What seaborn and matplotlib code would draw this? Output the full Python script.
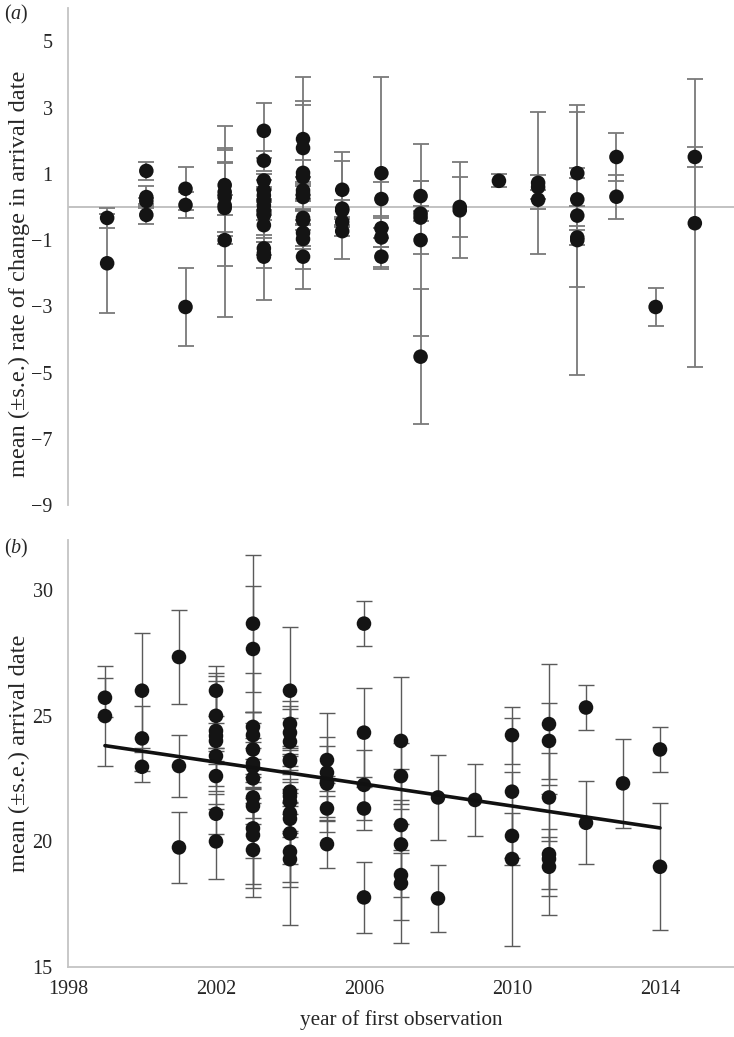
import numpy as np
import pandas as pd
import matplotlib
matplotlib.use("Agg")
import matplotlib.pyplot as plt
import seaborn as sns

# panel (a): rate of change in arrival date
a_year = [1999, 1999,
          2000, 2000, 2000, 2000,
          2001, 2001, 2001,
          2002, 2002, 2002, 2002, 2002, 2002,
          2003, 2003, 2003, 2003, 2003, 2003, 2003, 2003, 2003, 2003, 2003, 2003, 2003,
          2004, 2004, 2004, 2004, 2004, 2004, 2004, 2004, 2004, 2004, 2004, 2004,
          2005, 2005, 2005, 2005, 2005,
          2006, 2006, 2006, 2006, 2006,
          2007, 2007, 2007, 2007, 2007,
          2008, 2008,
          2009,
          2010, 2010, 2010,
          2011, 2011, 2011, 2011, 2011,
          2012, 2012,
          2013,
          2014, 2014]
a_mean = [-0.33, -1.7,
          1.09, 0.3, 0.18, -0.24,
          0.55, 0.06, -3.02,
          0.66, 0.45, 0.30, 0.05, -0.03, -1.0,
          2.3, 1.4, 0.8, 0.5, 0.35, 0.2, 0.05, -0.1, -0.25, -0.55, -1.25, -1.4, -1.5,
          2.05, 1.78, 1.03, 0.9, 0.5, 0.4, 0.3, -0.33, -0.4, -0.78, -0.97, -1.5,
          0.52, -0.05, -0.1, -0.45, -0.73,
          1.02, 0.24, -0.64, -0.92, -1.5,
          0.33, -0.2, -0.32, -1.0, -4.52,
          0.0, -0.1,
          0.79,
          0.73, 0.6, 0.22,
          1.02, 0.23, -0.26, -0.92, -1.0,
          1.51, 0.31,
          -3.02,
          1.51, -0.49]
a_se = [0.3, 1.5,
        0.27, 0.34, 0.1, 0.27,
        0.65, 0.4, 1.17,
        1.78, 1.33, 1.06, 0.3, 1.75, 2.32,
        0.83, 0.3, 0.2, 0.3, 0.2, 0.3, 0.2, 0.3, 0.8, 0.3, 0.2, 0.45, 1.3,
        1.88, 1.42, 0.4, 2.18, 0.25, 0.5, 0.4, 0.2, 0.3, 0.4, 0.9, 0.98,
        1.13, 0.25, 1.48, 0.1, 0.15,
        2.9, 0.5, 0.3, 0.3, 0.3,
        0.45, 0.22, 1.1, 2.9, 2.03,
        0.92, 1.45,
        0.2,
        2.15, 0.37, 0.28,
        0.15, 2.65, 0.3, 0.22, 4.08,
        0.73, 0.66,
        0.58,
        0.29, 4.35]

# panel (b): mean arrival date
b_year = [1999, 1999,
          2000, 2000, 2000,
          2001, 2001, 2001,
          2002, 2002, 2002, 2002, 2002, 2002, 2002, 2002, 2002,
          2003, 2003, 2003, 2003, 2003, 2003, 2003, 2003, 2003, 2003, 2003, 2003, 2003,
          2004, 2004, 2004, 2004, 2004, 2004, 2004, 2004, 2004, 2004, 2004, 2004, 2004, 2004,
          2005, 2005, 2005, 2005, 2005, 2005,
          2006, 2006, 2006, 2006, 2006,
          2007, 2007, 2007, 2007, 2007, 2007,
          2008, 2008,
          2009,
          2010, 2010, 2010, 2010,
          2011, 2011, 2011, 2011, 2011, 2011,
          2012, 2012,
          2013,
          2014, 2014]
b_mean = [25.72, 24.99,
          26.0, 24.1, 22.97,
          27.34, 23.0, 19.76,
          26.0, 25.0, 24.4, 24.2, 24.0, 23.4, 22.6, 21.1, 20.0,
          28.67, 27.66, 24.56, 24.23, 23.66, 23.1, 22.97, 22.51, 21.75, 21.41, 20.52, 20.25, 19.66,
          26.0, 24.68, 24.33, 23.97, 23.24, 23.2, 21.98, 21.8, 21.58, 21.12, 20.9, 20.32, 19.59, 19.29,
          23.24, 22.74, 22.38, 22.3, 21.31, 19.89,
          28.67, 24.33, 22.25, 21.31, 17.77,
          24.0, 22.6, 20.65, 19.88, 18.66, 18.33,
          21.75, 17.73,
          21.65,
          24.23, 21.98, 20.22, 19.3,
          24.67, 24.0, 21.75, 19.49, 19.3, 18.99,
          25.33, 20.74,
          22.31,
          23.66, 18.99]
b_se = [0.77, 2.0,
        2.3, 1.3, 0.6,
        1.86, 1.25, 1.4,
        1.0, 1.4, 2.2, 0.5, 2.7, 0.3, 0.6, 0.8, 1.5,
        2.73, 2.5, 0.6, 0.5, 1.5, 1.0, 0.3, 4.2, 0.8, 0.7, 1.2, 2.1, 1.86,
        2.52, 0.9, 0.6, 1.3, 0.4, 0.2, 0.4, 3.6, 0.5, 0.8, 0.5, 1.2, 2.9, 0.9,
        0.92, 2.38, 1.4, 0.3, 0.5, 0.96,
        0.89, 1.76, 1.4, 0.86, 1.4,
        2.53, 1.3, 1.0, 3.0, 0.86, 2.36,
        1.7, 1.32,
        1.45,
        1.13, 2.92, 0.9, 3.46,
        2.41, 1.51, 1.75, 2.4, 1.2, 1.17,
        0.88, 1.65,
        1.76,
        0.88, 2.52]

a_ticks = [-9, -7, -5, -3, -1, 1, 3, 5]
b_yticks = [15, 20, 25, 30]
b_xticks = [1998, 2002, 2006, 2010, 2014]

df_a = pd.DataFrame({"year": a_year, "mean": a_mean, "se": a_se})
df_b = pd.DataFrame({"year": b_year, "mean": b_mean, "se": b_se})

sns.set_style("white")
plt.rcParams["font.family"] = ["Liberation Serif", "DejaVu Serif"]
plt.rcParams["mathtext.fontset"] = "custom"
plt.rcParams["mathtext.it"] = "Liberation Serif:italic"
plt.rcParams["mathtext.rm"] = "Liberation Serif"

fig = plt.figure(figsize=(7.34, 10.37), dpi=100)
ax_a = fig.add_axes([0.0926, 0.513, 0.9074, 0.479])
ax_b = fig.add_axes([0.0926, 0.0675, 0.9074, 0.4118])

spine_col = "#c4c4c4"
fs = 14.5
yfs = 17.5

# ---- panel a
ax_a.axhline(0, color="#bdbdbd", lw=1.3, zorder=1)
ax_a.errorbar(df_a["year"], df_a["mean"], yerr=df_a["se"], fmt="none",
              ecolor="#7a7a7a", elinewidth=1.3, capsize=5.5, capthick=1.3, zorder=2)
sns.scatterplot(data=df_a, x="year", y="mean", ax=ax_a, color="#141414",
                s=110, edgecolor="none", zorder=3, legend=False)
ax_a.set_xlim(1998, 2015)
ax_a.set_ylim(-9, 6)
ax_a.set_yticks(a_ticks)
ax_a.set_yticklabels([str(t).replace("-", "\u2212") for t in a_ticks])
ax_a.set_xticks([])
ax_a.set_xlabel("")
ax_a.set_ylabel("mean (\u00b1s.e.) rate of change in arrival date", fontsize=yfs)
ax_a.yaxis.set_label_coords(-0.057, 0.465)
for s in ["top", "right", "bottom"]:
    ax_a.spines[s].set_visible(False)
ax_a.spines["left"].set_color(spine_col)
ax_a.spines["left"].set_linewidth(1.3)
ax_a.tick_params(axis="y", length=0, pad=11, labelsize=fs)

# ---- panel b
ax_b.errorbar(df_b["year"], df_b["mean"], yerr=df_b["se"], fmt="none",
              ecolor="#5a5a5a", elinewidth=1.0, capsize=5.5, capthick=1.0, zorder=2)
sns.scatterplot(data=df_b, x="year", y="mean", ax=ax_b, color="#141414",
                s=110, edgecolor="none", zorder=3, legend=False)
sns.regplot(data=df_b, x="year", y="mean", ax=ax_b, scatter=False, ci=None,
            color="#111111", line_kws={"lw": 2.6, "zorder": 4})
ax_b.set_xlim(1998, 2016)
ax_b.set_ylim(15, 32)
ax_b.set_yticks(b_yticks)
ax_b.set_xticks(b_xticks)
ax_b.set_xlabel("year of first observation", fontsize=15.2, labelpad=8)
ax_b.set_ylabel("mean (\u00b1s.e.) arrival date", fontsize=yfs)
ax_b.yaxis.set_label_coords(-0.057, 0.5)
for s in ["top", "right"]:
    ax_b.spines[s].set_visible(False)
for s in ["left", "bottom"]:
    ax_b.spines[s].set_color(spine_col)
    ax_b.spines[s].set_linewidth(1.3)
ax_b.tick_params(axis="both", length=0, labelsize=fs)
ax_b.tick_params(axis="y", pad=11)
ax_b.tick_params(axis="x", pad=9)

fig.text(0.005, 0.986, "($\\it{a}$)", fontsize=fs, va="center", ha="left")
fig.text(0.005, 0.471, "($\\it{b}$)", fontsize=fs, va="center", ha="left")

fig.savefig("out.png", dpi=100)
